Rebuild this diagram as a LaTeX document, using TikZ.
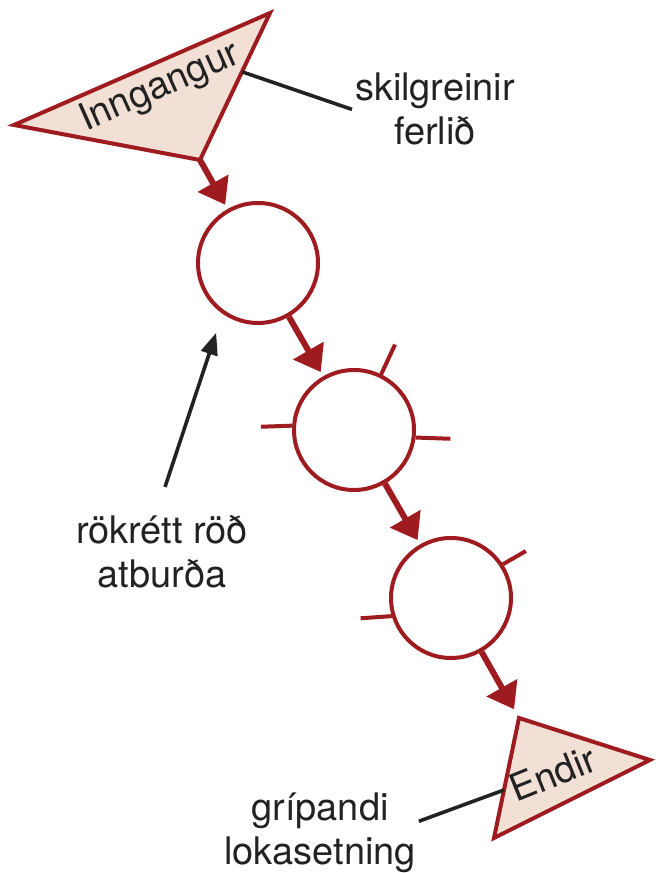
\documentclass[tikz,border=0pt]{standalone}
\usepackage{fontspec}
\setmainfont{TeX Gyre Heros}
\usepackage{tikz}
\usetikzlibrary{arrows.meta, calc}
\definecolor{procred}{HTML}{9E1B20}
\definecolor{procfill}{HTML}{F2E0D6}
\definecolor{noteink}{HTML}{222222}

\begin{document}
\begin{tikzpicture}[
  >=Triangle,
  every node/.style={font=\fontsize{27}{31.3}\selectfont, text=noteink},
  event/.style={circle, draw=procred, line width=0.1cm, minimum size=3cm, inner sep=0pt},
  terminal/.style={draw=procred, fill=procfill, line width=0.1cm},
  flow/.style={-{Triangle[length=0.62cm, width=0.85cm]}, line width=0.15cm, procred, shorten >=0.12cm},
  tick/.style={line width=0.1cm, procred},
  callout/.style={line width=0.09cm, noteink},
  pointer/.style={-{Triangle[length=0.55cm, width=0.42cm]}, line width=0.09cm, noteink},
  note/.style={align=center, inner sep=2pt}
]
\useasboundingbox (0,0) rectangle (16.4,21.825);

% Entry triangle
\coordinate (inA) at (0.35, 18.7);
\coordinate (inB) at (6.75, 21.5);
\coordinate (inC) at (5.0, 17.825);
\draw[terminal] (inA) -- (inB) -- (inC) -- cycle;
\node[rotate=24, anchor=base] (inLbl) at (4.1, 19.4) {Inngangur};

% Exit triangle
\coordinate (outD) at (12.975, 3.875);
\coordinate (outE) at (16.25, 2.825);
\coordinate (outF) at (12.35, 0.875);
\draw[terminal] (outD) -- (outE) -- (outF) -- cycle;
\node[rotate=22, anchor=base] (outLbl) at (13.95, 2.175) {Endir};

% Events
\node[event] (e1) at (6.45, 15.25) {};
\node[event] (e2) at (8.85, 11.075) {};
\node[event] (e3) at (11.275, 6.875) {};

% Ticks on the events
\draw[tick] (e2.64) -- ++(65:0.82);
\draw[tick] (e2.176) -- ++(182:0.78);
\draw[tick] (e2.-7) -- ++(-2:0.87);
\draw[tick] (e3.33) -- ++(30:0.66);
\draw[tick] (e3.197) -- ++(184:0.78);

% Flow
\draw[flow] (inC) -- (e1);
\draw[flow] (e1) -- (e2);
\draw[flow] (e2) -- (e3);
\draw[flow, shorten >=0.25cm] (e3) -- (outD);

% Notes
\node[note, anchor=north] (defLbl) at (10.875, 20.07) {skilgreinir\\ferlið};
\coordinate (inAnch) at ($(inB)!0.4!(inC)$);
\draw[callout] (inAnch) -- (defLbl.west);

\node[note, anchor=north] (seqLbl) at (4.05, 9.02) {rökrétt röð\\atburða};
\coordinate (seqTail) at (4.125, 9.65);
\draw[pointer, shorten >=0.5cm] (seqTail) -- (e1.235);

\node[note, anchor=north] (closeLbl) at (8.0, 2.07) {grípandi\\lokasetning};
\coordinate (outAnch) at ($(outD)!0.6!(outF)$);
\draw[callout] ([yshift=0.3cm]closeLbl.east) -- (outAnch);

\end{tikzpicture}
\end{document}
